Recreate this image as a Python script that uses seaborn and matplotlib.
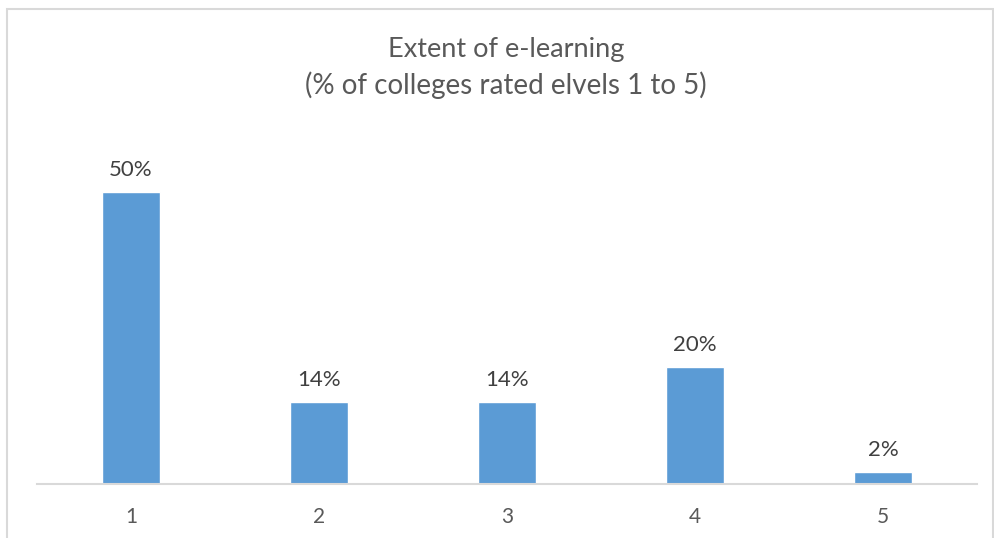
import matplotlib
matplotlib.use("Agg")
import matplotlib.pyplot as plt
from matplotlib.patches import Rectangle
import seaborn as sns
import pandas as pd

levels = ["1", "2", "3", "4", "5"]
share_pct = [50, 14, 14, 20, 2]
title_lines = ["Extent of e-learning", "(% of colleges rated elvels 1 to 5)"]

sns.set_style("white")
plt.rcParams["font.family"] = ["Lato", "DejaVu Sans"]

W, H = 995, 538
fig = plt.figure(figsize=(W / 100, H / 100), dpi=100)

# chart area frame
fig.patches.append(Rectangle((7.5 / W, -0.05), (993.5 - 7.5) / W, 1.05 - 9.5 / H,
                             transform=fig.transFigure, fill=False,
                             edgecolor="#d9d9d9", linewidth=1.5))

ax = fig.add_axes([37 / W, (H - 484) / H, 940 / W, (484 - 133.6) / H])
df = pd.DataFrame({"level": levels, "pct": share_pct})
sns.barplot(data=df, x="level", y="pct", order=levels, color="#5B9BD5",
            width=0.31, saturation=1, ax=ax)

ax.set_xlim(-0.5, 4.5)
ax.set_ylim(0, 60)
ax.set_xlabel("")
ax.set_ylabel("")
ax.set_yticks([])
for s in ["top", "right", "left"]:
    ax.spines[s].set_visible(False)
ax.spines["bottom"].set_color("#d9d9d9")
ax.spines["bottom"].set_linewidth(1.5)
ax.tick_params(axis="x", length=0, pad=16.5, labelsize=15, labelcolor="#595959")

# value labels above each bar
for i, v in enumerate(share_pct):
    ax.annotate(f"{v}%", xy=(i, v), xytext=(0, 11.5), textcoords="offset points",
                ha="center", va="baseline", fontsize=16, color="#404040")

fig.text(506 / W, (H - 57) / H, title_lines[0], ha="center", va="baseline",
         fontsize=19.5, color="#595959")
fig.text(506 / W, (H - 94) / H, title_lines[1], ha="center", va="baseline",
         fontsize=20, color="#595959")

fig.savefig("out.png", dpi=100, facecolor="white")
